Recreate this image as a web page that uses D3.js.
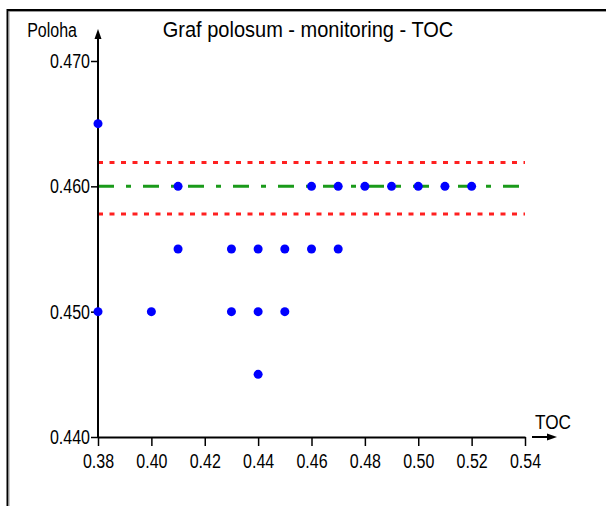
<!DOCTYPE html>
<html><head><meta charset="utf-8">
<script src="https://cdn.jsdelivr.net/npm/d3@7"></script>
<style>body{margin:0;background:#fff}svg{display:block}</style>
</head><body><svg id="c" width="606" height="506"></svg>
<script>
const title = "Graf polosum - monitoring - TOC";
const xLabel = "TOC";
const yLabel = "Poloha";
const xTicks = [0.38,0.40,0.42,0.44,0.46,0.48,0.50,0.52,0.54];
const yTicks = [0.440,0.450,0.460,0.470];
const pointX = [0.38,0.38,0.40,0.41,0.41,0.43,0.43,0.44,0.44,0.44,0.45,0.45,0.46,0.46,0.47,0.47,0.48,0.49,0.50,0.51,0.52];
const pointY = [0.465,0.450,0.450,0.460,0.455,0.455,0.450,0.455,0.450,0.445,0.455,0.450,0.460,0.455,0.460,0.455,0.460,0.460,0.460,0.460,0.460];
const centerLine = 0.460;
const limitLines = [0.4619,0.4578];

const font = "'Liberation Sans',Arial,sans-serif";
const sx = 0.8;
const svg = d3.select("#c");
const x = d3.scaleLinear().domain([0.38,0.54]).range([98,525]);
const y = d3.scaleLinear().domain([0.440,0.470]).range([437,61]);

// frame
svg.append("line").attr("x1",7).attr("x2",606).attr("y1",10).attr("y2",10).attr("stroke","#000").attr("stroke-width",2);
svg.append("line").attr("x1",7).attr("x2",606).attr("y1",11.5).attr("y2",11.5).attr("stroke","#999").attr("stroke-width",1);
svg.append("line").attr("x1",7.5).attr("x2",7.5).attr("y1",9).attr("y2",506).attr("stroke","#000").attr("stroke-width",2);
svg.append("line").attr("x1",9).attr("x2",9).attr("y1",11).attr("y2",506).attr("stroke","#999").attr("stroke-width",1);

// reference lines
svg.selectAll("line.lim").data(limitLines).enter().append("line").attr("class","lim")
  .attr("x1",x(0.38)).attr("x2",x(0.54)).attr("y1",d=>y(d)).attr("y2",d=>y(d))
  .attr("stroke","#ff2020").attr("stroke-width",3).attr("stroke-dasharray","5,6.5");
svg.append("line").attr("x1",x(0.38)).attr("x2",x(0.54)).attr("y1",y(centerLine)).attr("y2",y(centerLine))
  .attr("stroke","#1a9a1a").attr("stroke-width",3).attr("stroke-dasharray","16,12,5,12");

// axes
const xAxis = d3.axisBottom(x).tickValues(xTicks).tickFormat(d3.format(".2f")).tickSize(9).tickSizeOuter(0);
const gx = svg.append("g").attr("transform","translate(0,437)").call(xAxis);
gx.select(".domain").attr("stroke","#000").attr("stroke-width",2);
gx.selectAll(".tick line").attr("stroke","#000").attr("stroke-width",1.5);
gx.selectAll(".tick text").attr("font-family",font).attr("font-size",20).attr("fill","#000")
  .attr("y",17).attr("transform",`scale(${sx},1)`);

const yAxis = d3.axisLeft(y).tickValues(yTicks).tickFormat(d3.format(".3f")).tickSize(7).tickSizeOuter(0);
const gy = svg.append("g").attr("transform","translate(98,0)").call(yAxis);
gy.select(".domain").remove();
gy.selectAll(".tick line").attr("stroke","#000").attr("stroke-width",1.5);
gy.selectAll(".tick text").attr("font-family",font).attr("font-size",20).attr("fill","#000")
  .attr("x",-8/sx).attr("transform",`scale(${sx},1)`);
svg.append("line").attr("x1",98).attr("x2",98).attr("y1",438).attr("y2",34).attr("stroke","#000").attr("stroke-width",2);
svg.append("path").attr("d","M98,29 L94.5,39 L101.5,39 Z").attr("fill","#000");
// x arrow
svg.append("line").attr("x1",532).attr("x2",550).attr("y1",437).attr("y2",437).attr("stroke","#000").attr("stroke-width",2);
svg.append("path").attr("d","M557,437 L547,433.5 L547,440.5 Z").attr("fill","#000");

// labels
function label(txt, px, py, size, k, anchor){
  svg.append("text").attr("transform",`translate(${px},${py}) scale(${k},1)`)
    .attr("text-anchor",anchor).attr("font-family",font).attr("font-size",size).attr("fill","#000").text(txt);
}
label(title, 308, 37, 22, 0.91, "middle");
label(yLabel, 77, 37, 20, sx, "end");
label(xLabel, 553, 429, 21, 0.82, "middle");

// points
svg.selectAll("circle.pt").data(pointX.map((d,i)=>[d,pointY[i]])).enter().append("circle").attr("class","pt")
  .attr("cx",d=>x(d[0])).attr("cy",d=>y(d[1])).attr("r",4.5).attr("fill","#0000ff");
</script></body></html>
